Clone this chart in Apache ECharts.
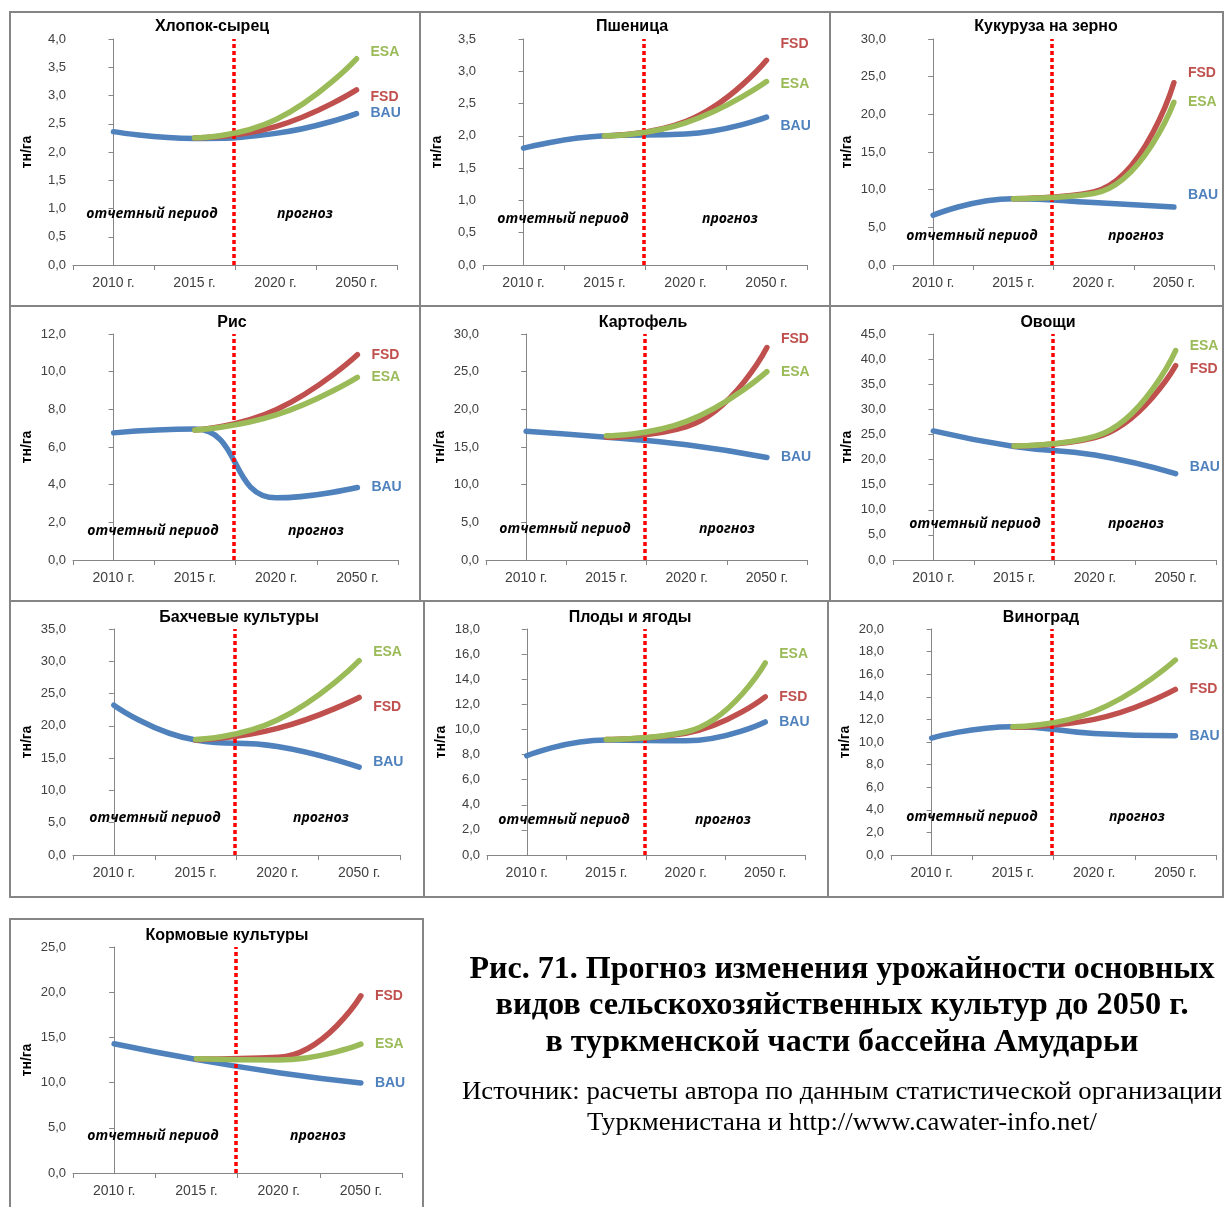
<!DOCTYPE html>
<html>
<head>
<meta charset="utf-8">
<script src="https://cdn.jsdelivr.net/npm/echarts@6/dist/echarts.min.js"></script>
<style>
html,body{margin:0;padding:0;background:#fff;}
#chart{width:1224px;height:1207px;}
</style>
</head>
<body>
<div id="chart"></div>
<script>
// ---------------- DATA ----------------
const categories = ['2010 г.', '2015 г.', '2020 г.', '2050 г.'];
const titles = ['Хлопок-сырец', 'Пшеница', 'Кукуруза на зерно', 'Рис', 'Картофель', 'Овощи',
  'Бахчевые культуры', 'Плоды и ягоды', 'Виноград', 'Кормовые культуры'];
const yMax  = [4, 3.5, 30, 12, 30, 45, 35, 18, 20, 25];
const yStep = [0.5, 0.5, 5, 2, 5, 5, 5, 2, 2, 5];
const bau = [
  [2.36, 2.24, 2.33, 2.68],
  [1.81, 2.00, 2.03, 2.29],
  [6.6, 8.8, 8.3, 7.7],
  [6.75, 6.95, 3.3, 3.85],
  [17.1, 16.3, 15.3, 13.6],
  [25.7, 22.6, 20.9, 17.2],
  [23.2, 17.8, 16.8, 13.6],
  [7.9, 9.15, 9.1, 10.6],
  [10.35, 11.35, 10.75, 10.55],
  [14.3, 12.55, 11.1, 9.95]
];
const fsd = [
  [null, 2.25, 2.45, 3.10],
  [null, 2.00, 2.22, 3.17],
  [null, 8.8, 9.7, 24.2],
  [null, 6.9, 7.98, 10.9],
  [null, 16.3, 17.7, 28.2],
  [null, 22.7, 24.4, 38.7],
  [null, 17.8, 19.6, 24.4],
  [null, 9.2, 9.7, 12.6],
  [null, 11.3, 12.0, 14.65],
  [null, 12.6, 12.8, 19.6]
];
const esa = [
  [null, 2.25, 2.57, 3.65],
  [null, 2.00, 2.20, 2.84],
  [null, 8.8, 9.5, 21.6],
  [null, 6.9, 7.7, 9.7],
  [null, 16.5, 18.4, 25.0],
  [null, 22.7, 24.6, 41.7],
  [null, 17.9, 20.9, 30.1],
  [null, 9.2, 9.8, 15.3],
  [null, 11.35, 12.7, 17.25],
  [null, 12.65, 12.5, 14.25]
];
const seriesNames = ['BAU', 'FSD', 'ESA'];
const dividerPos = 1.48;          // boundary between reporting period and forecast (category index units)
const yAxisName = 'тн/га';
const periodText = 'отчетный период';
const forecastText = 'прогноз';
const captionLines = ['Рис. 71. Прогноз изменения урожайности основных',
  'видов сельскохозяйственных культур до 2050 г.',
  'в туркменской части бассейна Амударьи'];
const sourceLines = ['Источник: расчеты автора по данным статистической организации',
  'Туркменистана и http://www.cawater-info.net/'];

// ---------------- LAYOUT / STYLE ----------------
const colors = ['#4F81BD', '#C0504D', '#9BBB59'];
// plot rects [left, top, right, bottom]
const plots = [
  [73, 39, 397, 265], [483, 39, 807, 265], [893, 39, 1214, 265],
  [73, 334, 398, 560], [486, 334, 807, 560], [893, 334, 1216, 560],
  [73, 629, 400, 855], [487, 629, 805, 855], [891, 629, 1216, 855],
  [73, 947, 402, 1173]
];
// panel border rects [x0, y0, x1, y1]
const panels = [
  [10, 12, 420, 306], [420, 12, 830, 306], [830, 12, 1223, 306],
  [10, 306, 420, 601], [420, 306, 830, 601], [830, 306, 1223, 601],
  [10, 601, 424, 897], [424, 601, 828, 897], [828, 601, 1223, 897],
  [10, 919, 423, 1215]
];
const titlePos = [[212, 27], [632, 27], [1046, 27], [232, 323], [643, 323], [1048, 323],
  [239, 618], [630, 618], [1041, 618], [227, 936]];
// annotation rows: [periodX, forecastX, y]
const notePos = [[152, 305, 214], [563, 730, 219], [972, 1136, 236], [153, 316, 531], [565, 727, 529],
  [975, 1136, 524], [155, 321, 818], [564, 723, 820], [972, 1137, 817], [153, 318, 1136]];
// end label vertical offsets [BAU, FSD, ESA]
const labelDy = [
  [0, 7, -7], [9, -16, 3], [-12, -10, 0], [0, 0, 0], [0, -8, 0],
  [-6, 4, -4], [-5, 10, -8], [0, 0, -9], [0, 0, -15], [0, 0, 0]
];

const axisColor = '#868686';
const labelColor = '#404040';
const sansFont = "'Liberation Sans', Arial, sans-serif";

const grids = [], xAxes = [], yAxes = [], series = [], graphics = [];

plots.forEach((p, i) => {
  grids.push({left: p[0], top: p[1], width: p[2] - p[0], height: p[3] - p[1], containLabel: false});
  // category axis
  xAxes.push({
    type: 'category', gridIndex: i, data: categories, boundaryGap: true,
    axisLine: {lineStyle: {color: axisColor, width: 1}},
    axisTick: {show: true, length: 5, lineStyle: {color: axisColor}},
    axisLabel: {color: labelColor, fontSize: 14, fontFamily: sansFont, margin: 11},
    splitLine: {show: false}
  });
  // hidden value axis for divider line
  xAxes.push({
    type: 'value', gridIndex: i, min: -0.5, max: 3.5, show: false, splitLine: {show: false}
  });
  yAxes.push({
    type: 'value', gridIndex: i, min: 0, max: yMax[i], interval: yStep[i],
    name: yAxisName, nameLocation: 'middle', nameGap: 39, nameRotate: 90,
    nameTextStyle: {fontWeight: 'bold', fontSize: 14, color: '#000', fontFamily: sansFont},
    axisLine: {show: true, lineStyle: {color: axisColor, width: 1}},
    axisTick: {show: true, length: 5, lineStyle: {color: axisColor}},
    axisLabel: {color: labelColor, fontSize: 13, fontFamily: sansFont, margin: 7,
      formatter: v => v.toFixed(1).replace('.', ',')},
    splitLine: {show: false}
  });
  const dataSets = [bau[i], fsd[i], esa[i]];
  dataSets.forEach((d, k) => {
    series.push({
      type: 'line', name: seriesNames[k], xAxisIndex: 2 * i, yAxisIndex: i,
      data: d, smooth: 0.5, symbol: 'none', connectNulls: false,
      lineStyle: {color: colors[k], width: 5.5, cap: 'round', join: 'round'},
      itemStyle: {color: colors[k]},
      z: 3 + k,
      endLabel: {
        show: true, formatter: seriesNames[k], color: colors[k], fontWeight: 'bold',
        fontSize: 14, fontFamily: sansFont, distance: 14, offset: [0, labelDy[i][k]]
      },
      emphasis: {disabled: true}, silent: true, animation: false
    });
  });
  // divider
  series.push({
    type: 'line', xAxisIndex: 2 * i + 1, yAxisIndex: i, data: [], silent: true, animation: false,
    z: 10,
    markLine: {
      symbol: 'none', silent: true, animation: false, label: {show: false},
      lineStyle: {color: '#FF0000', width: 3.5, type: [4, 3], opacity: 1},
      data: [{xAxis: dividerPos}]
    }
  });
  // border
  const b = panels[i];
  graphics.push({
    type: 'rect', shape: {x: b[0], y: b[1], width: b[2] - b[0], height: b[3] - b[1]},
    style: {fill: 'none', stroke: '#858585', lineWidth: 2}, z: 0, silent: true
  });
  // title
  graphics.push({
    type: 'text', x: titlePos[i][0], y: titlePos[i][1], silent: true, z: 20,
    style: {text: titles[i], font: "bold 16px " + sansFont, fill: '#000',
      textAlign: 'center', textVerticalAlign: 'middle'}
  });
  // annotations
  const n = notePos[i];
  graphics.push({
    type: 'text', x: n[0], y: n[2], silent: true, z: 20,
    style: {text: periodText, font: "italic bold 14px 'Open Sans', 'Noto Sans', sans-serif", fill: '#000',
      textAlign: 'center', textVerticalAlign: 'middle'}
  });
  graphics.push({
    type: 'text', x: n[1], y: n[2], silent: true, z: 20,
    style: {text: forecastText, font: "italic bold 14px 'Open Sans', 'Noto Sans', sans-serif", fill: '#000',
      textAlign: 'center', textVerticalAlign: 'middle'}
  });
});

// caption (fit width by scaling horizontally)
const mctx = document.createElement('canvas').getContext('2d');
function fitText(text, font, cx, cy, targetW) {
  mctx.font = font;
  const w = mctx.measureText(text).width;
  const s = targetW / w;
  graphics.push({
    type: 'text', x: cx, y: cy, scaleX: s, silent: true, z: 20,
    style: {text: text, font: font, fill: '#000', textAlign: 'center', textVerticalAlign: 'middle'}
  });
}
const capFont = "bold 31px 'Liberation Serif', 'Times New Roman', serif";
fitText(captionLines[0], capFont, 842, 970, 745);
fitText(captionLines[1], capFont, 842, 1006, 693);
fitText(captionLines[2], capFont, 842, 1043, 593);
const srcFont = "25px 'Liberation Serif', 'Times New Roman', serif";
fitText(sourceLines[0], srcFont, 842, 1092, 760);
fitText(sourceLines[1], srcFont, 842, 1123, 510);

const chart = echarts.init(document.getElementById('chart'), null, {renderer: 'canvas'});
chart.setOption({
  animation: false,
  backgroundColor: '#fff',
  grid: grids, xAxis: xAxes, yAxis: yAxes, series: series, graphic: graphics
});
</script>
</body>
</html>
